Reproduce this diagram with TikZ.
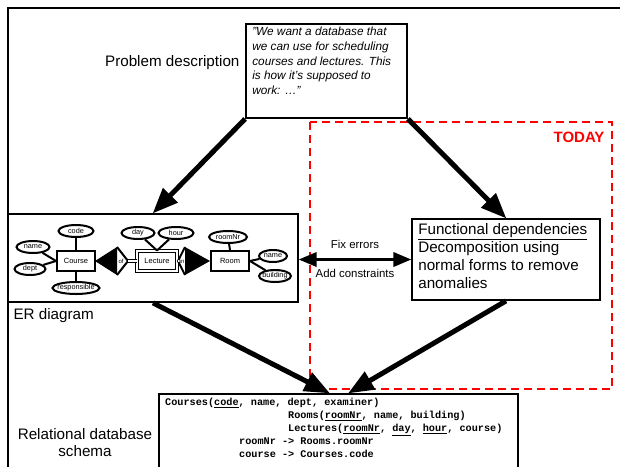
\documentclass[tikz,border=0pt]{standalone}
\usepackage{fontspec}
\setmainfont{Liberation Sans}
\setmonofont{Liberation Mono}
\usepackage{tikz}
\usetikzlibrary{arrows,shapes.geometric,positioning}
\definecolor{ffqqqq}{rgb}{1.,0.,0.}

\begin{document}
\begin{tikzpicture}[line join=miter,>=triangle 45,x=1pt,y=-1pt,
  bigarrow/.style={->,line width=5pt},
  bx/.style={draw,line width=1.8pt,inner sep=0pt},
  lbl/.style={font=\fontsize{15.2}{17}\selectfont},
  ent/.style={draw,line width=2pt,minimum width=38pt,minimum height=20pt,inner sep=1pt,font=\fontsize{7.5}{8}\selectfont},
  attr/.style={draw,ellipse,line width=2pt,inner sep=0pt,inner xsep=-2.5pt,minimum height=12pt,font=\fontsize{7.3}{8}\selectfont},
  lnk/.style={line width=2pt},
  dbl/.style={double,double distance=1.5pt,line width=1pt},
  sch/.style={anchor=west,inner sep=0pt,font=\fontsize{10.2}{11}\ttfamily\bfseries}]
\useasboundingbox (0,0) rectangle (620,466);
% frame
\draw[line width=1.8pt] (8,480) -- (8,8) -- (640,8);
% problem description
\node[lbl,anchor=east] (pdlabel) at (243,63) {Problem description};
\node[bx,minimum width=161pt,minimum height=94pt] (quote) at (326.5,71) {};
\node[anchor=north west,align=left,inner sep=0pt,font=\fontsize{11.8}{14.7}\selectfont\itshape] (quotetext) at ([xshift=7pt,yshift=-4pt]quote.north west)
  {”We want a database that\\we can use for scheduling\\courses and lectures. This\\is how it’s supposed to\\work: …”};
% today
\draw[ffqqqq,line width=1.8pt,dash pattern=on 8pt off 5pt] (310,122) rectangle (612,389);
\node[anchor=east,ffqqqq,font=\fontsize{15}{17}\selectfont\bfseries] (today) at (608,137) {TODAY};
% ER diagram
\node[bx,minimum width=290pt,minimum height=88pt] (erbox) at (153,258) {};
\node[lbl,anchor=west] (erlabel) at (10,316) {ER diagram};
\node[ent] (course) at (76,261) {Course};
\node[ent,dbl,minimum width=40pt] (lecture) at (157,261) {Lecture};
\node[ent] (room) at (230,261) {Room};
% relationships
\coordinate (ofw) at (95,261);
\coordinate (ofe) at (128,261);
\coordinate (inw) at (178,261);
\coordinate (ine) at (210,261);
\fill (ofw) -- (117,247) -- (117,275) -- cycle;
\draw[lnk] (117,247) -- (ofe) -- (117,275);
\node[font=\fontsize{6}{6}\selectfont,inner sep=0pt] (oftext) at (121,261) {of};
\fill (ine) -- (185,247) -- (185,275) -- cycle;
\draw[lnk] (185,247) -- (inw) -- (185,275);
\node[font=\fontsize{6}{6}\selectfont,inner sep=0pt] (intext) at (182,261) {in};
\draw[lnk] (course) -- (ofw);
\draw[dbl] (ofe) -- (lecture);
\draw[dbl] (lecture) -- (inw);
\draw[lnk] (ine) -- (room);
% attributes
\begin{scope}[every node/.append style=attr]
\node[minimum width=35pt] (code) at (76,231) {code};
\node[minimum width=33pt] (cname) at (33,247) {name};
\node[minimum width=31pt] (dept) at (30,269) {dept};
\node[minimum width=47pt] (resp) at (76,288) {responsible};
\node[minimum width=33pt] (day) at (138,233) {day};
\node[minimum width=35pt] (hour) at (176,233) {hour};
\node[minimum width=38pt] (roomnr) at (228,237) {roomNr};
\node[minimum width=28pt] (rname) at (273,256) {name};
\node[minimum width=32pt] (building) at (275,276) {building};
\end{scope}
\draw[lnk] (code) -- (course.north);
\draw[lnk] (cname) -- (course.west);
\draw[lnk] (dept) -- (course.west);
\draw[lnk] (resp) -- (course.south);
\draw[lnk] (day) -- (lecture.north);
\draw[lnk] (hour) -- (lecture.north);
\draw[lnk] (roomnr) -- (room.north);
\draw[lnk] (rname) -- (room.east);
\draw[lnk] (building) -- (room.east);
% functional dependencies
\node[bx,minimum width=188pt,minimum height=81pt] (fd) at (506,259.5) {};
\node[anchor=north west,align=left,inner sep=0pt,font=\fontsize{15.2}{18.2}\selectfont] (fdtext) at ([xshift=7pt,yshift=-5pt]fd.north west)
  {\underline{Functional dependencies}\\Decomposition using\\normal forms to remove\\anomalies};
\draw[<->,line width=3.2pt] (fd.west -| erbox.east) -- (fd.west)
  node[midway,above=6pt,font=\fontsize{11.4}{13}\selectfont] (fix) {Fix errors}
  node[midway,below=5pt,font=\fontsize{11.4}{13}\selectfont] (add) {Add constraints};
% schema
\node[bx,minimum width=359pt,minimum height=100pt] (schema) at (338.5,444) {};
\node[lbl,align=center] (schlabel) at (85,443) {Relational database\\schema};
\node[sch] (s1) at (165,403) {Courses(\underline{code}, name, dept, examiner)};
\node[sch] (s2) at (288,416) {Rooms(\underline{roomNr}, name, building)};
\node[sch] (s3) at (288,430) {Lectures(\underline{roomNr}, \underline{day}, \underline{hour}, course)};
\node[sch] (s4) at (239,441) {roomNr -> Rooms.roomNr};
\node[sch] (s5) at (239,454) {course -> Courses.code};
% arrows
\draw[bigarrow] (quote.south west) -- (erbox.north);
\draw[bigarrow] (quote.south east) -- (fd.north);
\draw[bigarrow] (erbox.south) -- ([xshift=-9pt]schema.north);
\draw[bigarrow] (fd.south) -- ([xshift=10pt]schema.north);
\end{tikzpicture}
\end{document}
